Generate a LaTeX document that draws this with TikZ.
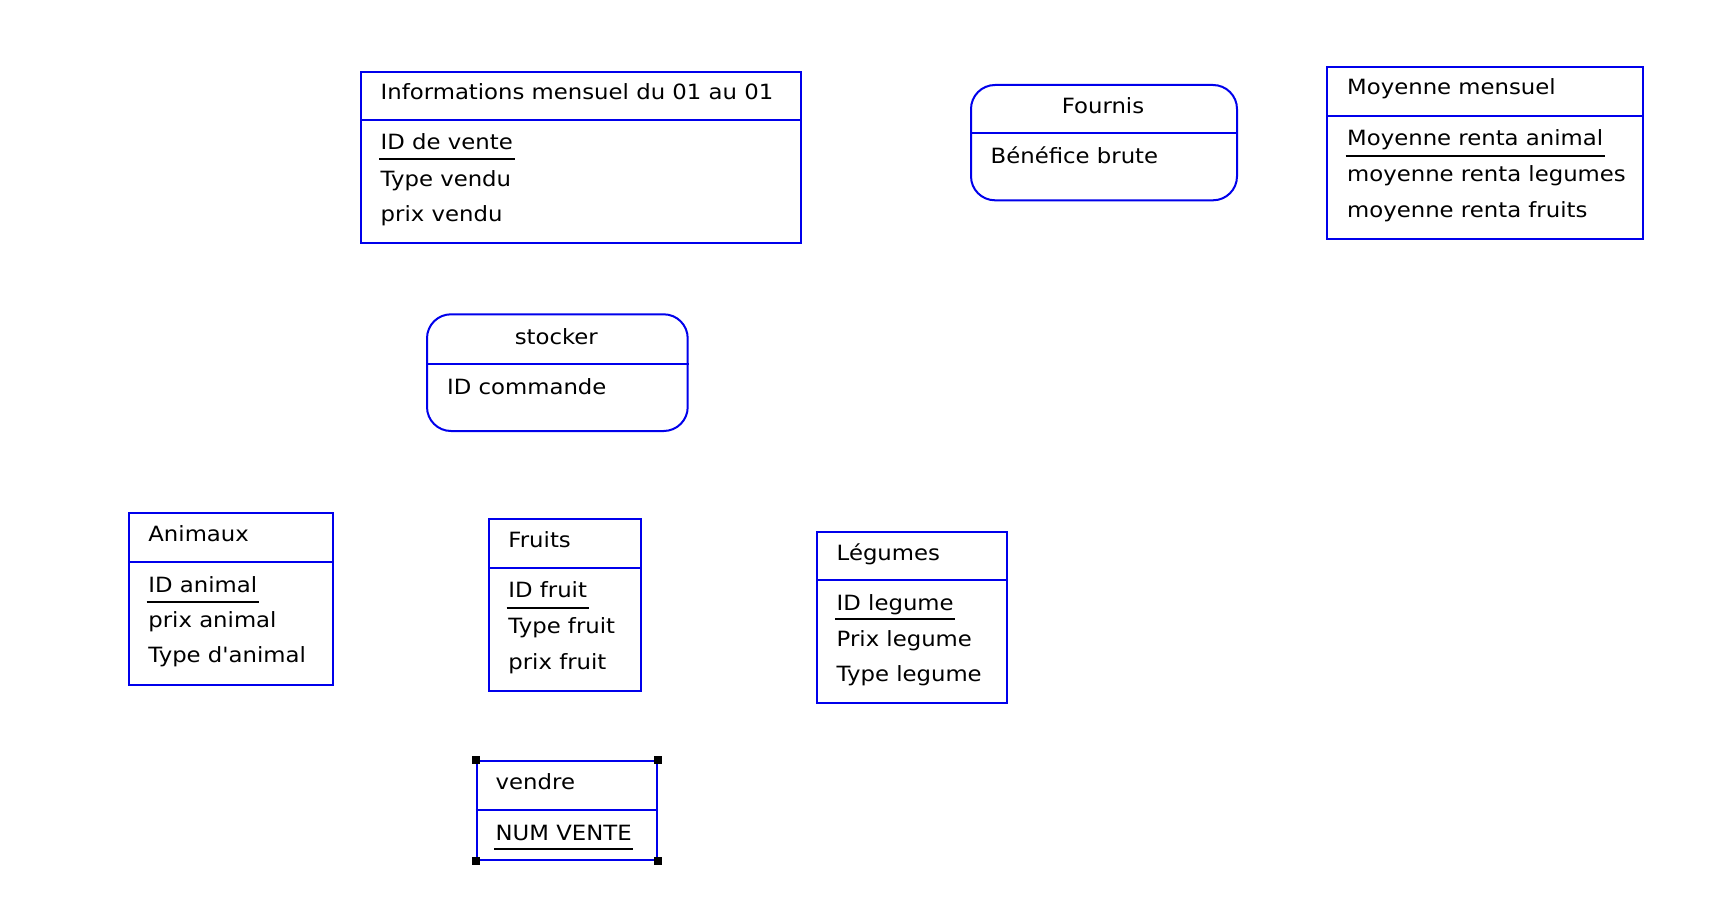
\documentclass[tikz,border=0pt]{standalone}
\usepackage{fontspec}
\newfontfamily\erfont{DejaVu Sans}[FakeStretch=1.085]
\definecolor{erblue}{RGB}{0,0,235}
\begin{document}
\begin{tikzpicture}[x=1pt,y=-1pt,
  ent/.style={draw=erblue, line width=2pt, inner sep=0pt, anchor=north west},
  rel/.style={ent, rounded corners=24pt},
  sepline/.style={draw=erblue, line width=2pt},
  lbl/.style={anchor=base west, inner xsep=1.5pt, inner ysep=0pt, font=\erfont\fontsize{21pt}{25pt}\selectfont},
  ctr/.style={anchor=base, inner sep=0pt, font=\erfont\fontsize{21pt}{25pt}\selectfont},
  uline/.style={draw=black, line width=2pt},
  handle/.style={fill=black, inner sep=0pt, minimum size=8pt}
]
\useasboundingbox (0,0) rectangle (1710,920);

% Informations mensuel
\node[ent, minimum width=440pt, minimum height=171pt] (info) at (360,70.7) {};
\draw[sepline] (info.west |- 0,120) -- (info.east |- 0,120);
\node[lbl] (infoT) at (379,100) {Informations mensuel du 01 au 01};
\node[lbl] (infoA) at (379,150) {ID de vente};
\node[lbl] (infoB) at (379,186) {Type vendu};
\node[lbl] (infoC) at (379,221.5) {prix vendu};
\draw[uline] ([yshift=-9.3pt]infoA.base west) -- ([yshift=-9.3pt]infoA.base east);

% Fournis
\node[rel, minimum width=266pt, minimum height=115.3pt] (fournis) at (970,84) {};
\draw[sepline] (fournis.west |- 0,133.3) -- (fournis.east |- 0,133.3);
\node[ctr] (fournisT) at (1103,113.3) {Fournis};
\node[lbl] (fournisA) at (989,163.3) {Bénéfice brute};

% Moyenne mensuel
\node[ent, minimum width=315.7pt, minimum height=171.7pt] (moy) at (1326,66) {};
\draw[sepline] (moy.west |- 0,116) -- (moy.east |- 0,116);
\node[lbl] (moyT) at (1345.5,95) {Moyenne mensuel};
\node[lbl] (moyA) at (1345.5,146) {Moyenne renta animal};
\node[lbl] (moyB) at (1345.5,181.7) {moyenne renta legumes};
\node[lbl] (moyC) at (1345.5,217.3) {moyenne renta fruits};
\draw[uline] ([yshift=-10pt]moyA.base west) -- ([yshift=-10pt]moyA.base east);

% stocker
\node[rel, minimum width=260.7pt, minimum height=116.7pt] (stocker) at (426,313.3) {};
\draw[sepline] (stocker.west |- 0,364.3) -- (stocker.east |- 0,364.3);
\node[ctr] (stockerT) at (556.3,344.3) {stocker};
\node[lbl] (stockerA) at (445.5,394.3) {ID commande};

% Animaux
\node[ent, minimum width=203.4pt, minimum height=172.3pt] (anim) at (128.3,511.7) {};
\draw[sepline] (anim.west |- 0,561.7) -- (anim.east |- 0,561.7);
\node[lbl] (animT) at (146.7,541.7) {Animaux};
\node[lbl] (animA) at (146.7,592.3) {ID animal};
\node[lbl] (animB) at (146.7,627.7) {prix animal};
\node[lbl] (animC) at (146.7,662.7) {Type d'animal};
\draw[uline] ([yshift=-9.4pt]animA.base west) -- ([yshift=-9.4pt]animA.base east);

% Fruits
\node[ent, minimum width=151.7pt, minimum height=171.7pt] (fruits) at (488.3,518.3) {};
\draw[sepline] (fruits.west |- 0,568.3) -- (fruits.east |- 0,568.3);
\node[lbl] (fruitsT) at (506.7,547.3) {Fruits};
\node[lbl] (fruitsA) at (506.7,597.7) {ID fruit};
\node[lbl] (fruitsB) at (506.7,633.3) {Type fruit};
\node[lbl] (fruitsC) at (506.7,669.3) {prix fruit};
\draw[uline] ([yshift=-10pt]fruitsA.base west) -- ([yshift=-10pt]fruitsA.base east);

% Legumes
\node[ent, minimum width=190pt, minimum height=171pt] (leg) at (816,530.7) {};
\draw[sepline] (leg.west |- 0,580) -- (leg.east |- 0,580);
\node[lbl] (legT) at (835,560) {Légumes};
\node[lbl] (legA) at (835,610) {ID legume};
\node[lbl] (legB) at (835,646) {Prix legume};
\node[lbl] (legC) at (835,681.7) {Type legume};
\draw[uline] ([yshift=-9.3pt]legA.base west) -- ([yshift=-9.3pt]legA.base east);

% vendre
\node[ent, minimum width=180pt, minimum height=99.3pt] (vendre) at (475.7,760) {};
\draw[sepline] (vendre.west |- 0,810) -- (vendre.east |- 0,810);
\node[lbl] (vendreT) at (494,789.3) {vendre};
\node[lbl] (vendreA) at (494,840.7) {NUM VENTE};
\draw[uline] ([yshift=-8.6pt]vendreA.base west) -- ([yshift=-8.6pt]vendreA.base east);
\node[handle] (h1) at (vendre.north west) {};
\node[handle] (h2) at (vendre.north east) {};
\node[handle] (h3) at (vendre.south west) {};
\node[handle] (h4) at (vendre.south east) {};
\end{tikzpicture}
\end{document}
